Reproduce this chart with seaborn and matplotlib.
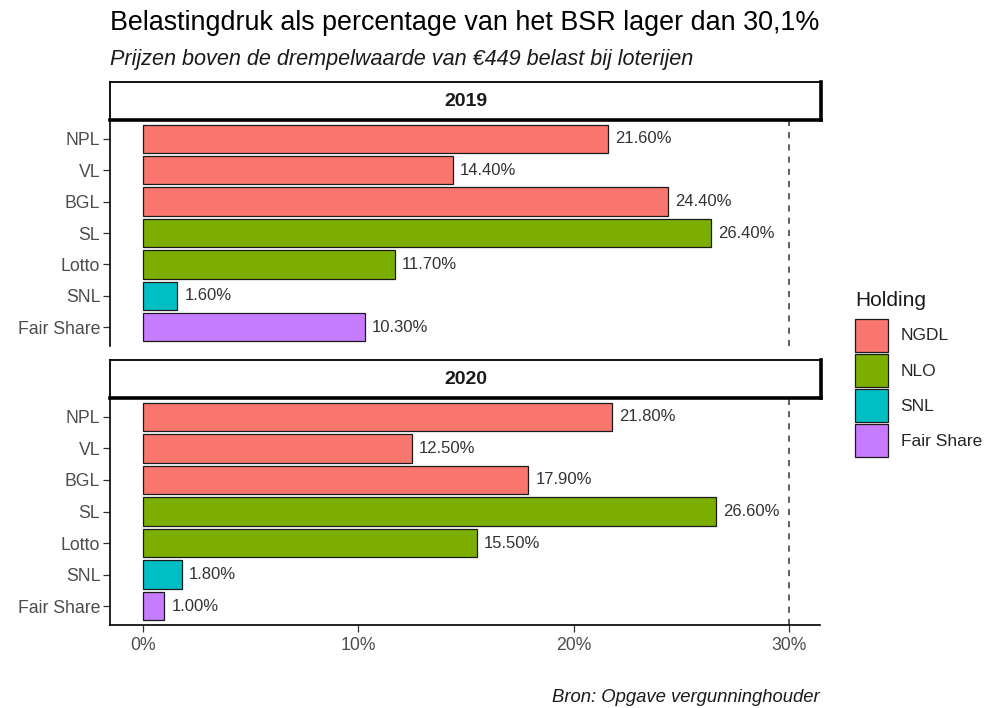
import pandas as pd
import matplotlib.pyplot as plt
import seaborn as sns
from matplotlib.ticker import FuncFormatter

categories = ["NPL", "VL", "BGL", "SL", "Lotto", "SNL", "Fair Share"]
holding = ["NGDL", "NGDL", "NGDL", "NLO", "NLO", "SNL", "Fair Share"]
values_2019 = [21.6, 14.4, 24.4, 26.4, 11.7, 1.6, 10.3]
values_2020 = [21.8, 12.5, 17.9, 26.6, 15.5, 1.8, 1.0]
years = ["2019", "2020"]
holding_order = ["NGDL", "NLO", "SNL", "Fair Share"]
palette = {"NGDL": "#F8766D", "NLO": "#7CAE00", "SNL": "#00BFC4", "Fair Share": "#C77CFF"}

df = pd.concat([
    pd.DataFrame({"jaar": y, "loterij": categories, "holding": holding, "druk": v})
    for y, v in zip(years, [values_2019, values_2020])
])

sns.set_style("white")
plt.rcParams["font.family"] = ["Liberation Sans", "DejaVu Sans"]

W, H = 993, 708
fig = plt.figure(figsize=(W / 100, H / 100), dpi=100)


def box(x0, y0, x1, y1):
    # pixel box (top-left origin) -> figure fraction rect
    return [x0 / W, 1 - y1 / H, (x1 - x0) / W, (y1 - y0) / H]


panels = [(82, 120, 346), (360, 398, 625)]
axes = []
for (strip_top, top, bottom), year in zip(panels, years):
    ax = fig.add_axes(box(110, top, 820, bottom))
    sub = df[df["jaar"] == year]
    sns.barplot(data=sub, y="loterij", x="druk", hue="holding", order=categories,
                hue_order=holding_order, palette=palette, dodge=False, width=0.9,
                edgecolor="#1A1A1A", linewidth=0.9, saturation=1, ax=ax)
    for c in ax.containers:
        ax.bar_label(c, labels=[f"{v:.2f}%" for v in c.datavalues], padding=5,
                     fontsize=12, color="#333333")
    ax.axvline(30, color="#333333", linestyle=(0, (4, 4)), linewidth=1.1)
    ax.set_xlim(-1.53, 31.44)
    ax.set_ylim(6.6, -0.6)
    ax.set_xlabel("")
    ax.set_ylabel("")
    ax.tick_params(axis="y", left=True, length=5, width=0.9, color="#333333",
                   labelsize=12.7, labelcolor="#4D4D4D", pad=2)
    for s in ["top", "right"]:
        ax.spines[s].set_visible(False)
    ax.spines["left"].set_color("black")
    ax.spines["left"].set_linewidth(1.2)
    axes.append(ax)

    # facet strip drawn above the panel
    sax = fig.add_axes(box(110, strip_top, 821, top))
    sax.set_xticks([])
    sax.set_yticks([])
    for s, lw in [("top", 1.3), ("left", 1.3), ("right", 2.6), ("bottom", 2.6)]:
        sax.spines[s].set_linewidth(lw)
        sax.spines[s].set_color("black")
    sax.text(0.5, 0.5, year, ha="center", va="center", fontsize=14,
             fontweight="bold", color="#1A1A1A",
             family=["Liberation Sans Narrow", "Liberation Sans", "DejaVu Sans"])

top_ax, bot_ax = axes
top_ax.spines["bottom"].set_visible(False)
top_ax.set_xticks([])
bot_ax.set_xticks([0, 10, 20, 30])
bot_ax.xaxis.set_major_formatter(FuncFormatter(lambda v, p: f"{v:.0f}%"))
bot_ax.tick_params(axis="x", bottom=True, length=5, width=0.9, color="#333333",
                   labelsize=12.7, labelcolor="#4D4D4D", pad=4)
bot_ax.spines["bottom"].set_color("black")
bot_ax.spines["bottom"].set_linewidth(1.2)

handles, labels = top_ax.get_legend_handles_labels()
for ax in axes:
    if ax.get_legend() is not None:
        ax.get_legend().remove()
fig.legend(handles, labels, loc="upper left",
           bbox_to_anchor=(839 / W, 1 - 303 / H), frameon=False, fontsize=12.5,
           handlelength=1.95, handleheight=2.55,
           labelspacing=0.12, handletextpad=0.7)
fig.text(855 / W, 1 - 300 / H, "Holding", fontsize=15, color="#1A1A1A",
         va="center", ha="left")

fig.text(110 / W, 1 - 23 / H, "Belastingdruk als percentage van het BSR lager dan 30,1%",
         fontsize=19.4, color="black", va="center", ha="left")
fig.text(110 / W, 1 - 59 / H, "Prijzen boven de drempelwaarde van €449 belast bij loterijen",
         fontsize=15.6, style="italic", color="#1A1A1A", va="center", ha="left")
fig.text(820 / W, 1 - 698 / H, "Bron: Opgave vergunninghouder", fontsize=13.3,
         style="italic", color="#1A1A1A", va="center", ha="right")

fig.savefig("out.png", dpi=100)
